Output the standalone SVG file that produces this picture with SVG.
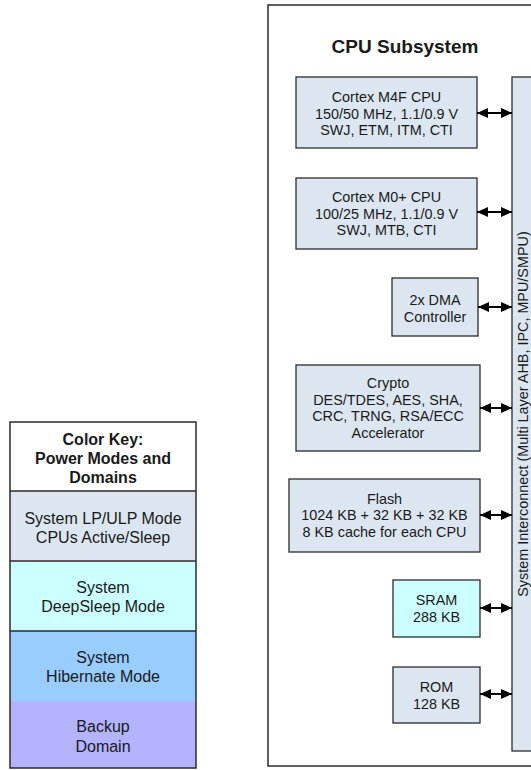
<svg xmlns="http://www.w3.org/2000/svg" width="531" height="770" viewBox="0 0 531 770">
<style>
text{font-family:"Liberation Sans",Arial,sans-serif;fill:#1a1a1a}
.b{font-size:14.4px;text-anchor:middle}
.k{font-size:16px;text-anchor:middle}
.kb{font-size:16px;font-weight:bold;text-anchor:middle}
.box{fill:#dce6f0;stroke:#2b2b2b;stroke-width:1.3}
.sram{fill:#ccffff;stroke:#2b2b2b;stroke-width:1.3}
.conn{stroke:#000;stroke-width:2;fill:none;marker-start:url(#ah);marker-end:url(#ah)}
</style>
<defs>
<marker id="ah" markerUnits="userSpaceOnUse" markerWidth="12" markerHeight="11" refX="11" refY="5" orient="auto-start-reverse">
<path d="M0,0 L11,5 L0,10 z" fill="#000"/>
</marker>
</defs>
<rect width="531" height="770" fill="#fff"/>

<g id="cpu-subsystem">
<rect x="268" y="5" width="290" height="761" fill="#fff" stroke="#2b2b2b" stroke-width="1.5"/>
<text x="405" y="53" style="font-size:19px;font-weight:bold;text-anchor:middle">CPU Subsystem</text>
</g>

<g id="interconnect">
<rect x="512" y="77" width="40" height="674" class="box"/>
<text class="b" transform="translate(527.5,414) rotate(-90)">System Interconnect (Multi Layer AHB, IPC, MPU/SMPU)</text>
</g>

<g id="m4f">
<rect x="296" y="77" width="181" height="71" class="box"/>
<text class="b" x="386.5" y="102">Cortex M4F CPU</text>
<text class="b" x="386.5" y="118.5">150/50 MHz, 1.1/0.9 V</text>
<text class="b" x="386.5" y="135">SWJ, ETM, ITM, CTI</text>
</g>

<g id="m0">
<rect x="296" y="178" width="181" height="71" class="box"/>
<text class="b" x="386.5" y="202">Cortex M0+ CPU</text>
<text class="b" x="386.5" y="218.5">100/25 MHz, 1.1/0.9 V</text>
<text class="b" x="386.5" y="235">SWJ, MTB, CTI</text>
</g>

<g id="dma">
<rect x="392" y="278" width="86" height="58" class="box"/>
<text class="b" x="435" y="305">2x DMA</text>
<text class="b" x="435" y="321.5">Controller</text>
</g>

<g id="crypto">
<rect x="296" y="365" width="184" height="86" class="box"/>
<text class="b" x="388" y="388">Crypto</text>
<text class="b" x="388" y="404.7">DES/TDES, AES, SHA,</text>
<text class="b" x="388" y="421.4">CRC, TRNG, RSA/ECC</text>
<text class="b" x="388" y="438">Accelerator</text>
</g>

<g id="flash">
<rect x="289" y="479" width="191" height="73" class="box"/>
<text class="b" x="384.5" y="503.5">Flash</text>
<text class="b" x="384.5" y="520.2">1024 KB + 32 KB + 32 KB</text>
<text class="b" x="384.5" y="537">8 KB cache for each CPU</text>
</g>

<g id="sram">
<rect x="393" y="580" width="87" height="57" class="sram"/>
<text class="b" x="436.5" y="605">SRAM</text>
<text class="b" x="436.5" y="622">288 KB</text>
</g>

<g id="rom">
<rect x="393" y="667" width="87" height="56" class="box"/>
<text class="b" x="436.5" y="692">ROM</text>
<text class="b" x="436.5" y="709">128 KB</text>
</g>

<g id="connectors">
<path class="conn" d="M477,113 H512"/>
<path class="conn" d="M477,212 H512"/>
<path class="conn" d="M478,307 H512"/>
<path class="conn" d="M480,408 H512"/>
<path class="conn" d="M480,515 H512"/>
<path class="conn" d="M480,608 H512"/>
<path class="conn" d="M480,694 H512"/>
</g>

<g id="color-key">
<rect x="10" y="422" width="186" height="69" fill="#fff"/>
<rect x="10" y="491" width="186" height="70" fill="#dce6f0"/>
<rect x="10" y="561" width="186" height="70" fill="#ccffff"/>
<rect x="10" y="631" width="186" height="70" fill="#99ccff"/>
<rect x="10" y="701" width="186" height="67" fill="#b3b3ff"/>
<path d="M10,491 H196 M10,561 H196 M10,631 H196" stroke="#2b2b2b" stroke-width="1.3" fill="none"/>
<rect x="10" y="422" width="186" height="346" fill="none" stroke="#2b2b2b" stroke-width="1.5"/>
<text class="kb" x="103" y="445">Color Key:</text>
<text class="kb" x="103" y="464">Power Modes and</text>
<text class="kb" x="103" y="483">Domains</text>
<text class="k" x="103" y="524">System LP/ULP Mode</text>
<text class="k" x="103" y="543">CPUs Active/Sleep</text>
<text class="k" x="103" y="593">System</text>
<text class="k" x="103" y="612">DeepSleep Mode</text>
<text class="k" x="103" y="663">System</text>
<text class="k" x="103" y="682">Hibernate Mode</text>
<text class="k" x="103" y="732">Backup</text>
<text class="k" x="103" y="752">Domain</text>
</g>
</svg>
